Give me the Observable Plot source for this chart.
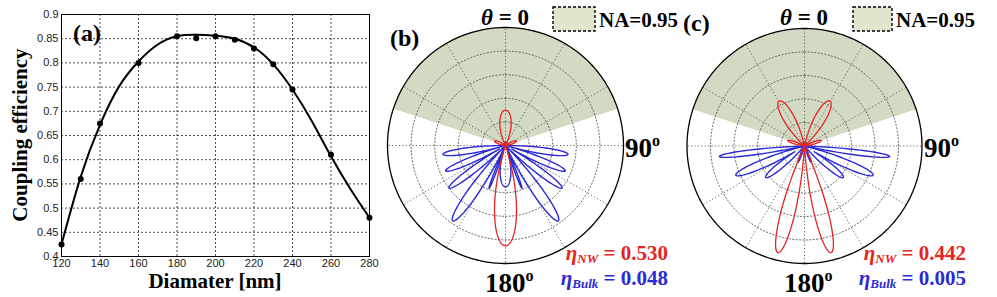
<!DOCTYPE html>
<html><head><meta charset="utf-8">
<script src="https://cdn.jsdelivr.net/npm/d3@7"></script>
<script src="https://cdn.jsdelivr.net/npm/@observablehq/plot@0.6"></script>
<style>
html,body{margin:0;padding:0;background:#fff;}
#wrap{position:relative;width:997px;height:297px;overflow:hidden;}
#wrap > svg, #wrap > figure{position:absolute;top:0;margin:0;}
</style></head>
<body><div id="wrap"></div>
<script>
// ---- Panel (a) data ----
const diameters = [120,130,140,160,180,190,200,210,220,230,240,260,280];
const efficiency = [0.425,0.56,0.675,0.80,0.855,0.851,0.855,0.848,0.83,0.797,0.745,0.61,0.48];
const fitDiam = [120,130,140,150,160,170,180,190,200,210,220,230,240,250,260,270,280];
const fitEff  = [0.425,0.565,0.672,0.752,0.803,0.838,0.855,0.858,0.856,0.850,0.832,0.797,0.745,0.680,0.607,0.540,0.480];
const xTicks = [120,140,160,180,200,220,240,260,280];
const yTicks = [0.4,0.45,0.5,0.55,0.6,0.65,0.7,0.75,0.8,0.85,0.9];
const yTickLabels = ["0.4","0.45","0.5","0.55","0.6","0.65","0.7","0.75","0.8","0.85","0.9"];

// ---- Polar panels: lobes [angle from top (deg), normalized length, half-width (deg)] ----
const nwB   = [[0,0.30,26],[68,0.10,15],[-68,0.10,15],[180,0.85,17.7]];
const bulkB = [[0,0.03,40],[98,0.535,8],[-98,0.535,8],[113,0.55,7.5],[-113,0.55,7.5],[127,0.60,7.5],[-127,0.60,7.5],[145,0.78,9],[-145,0.78,9],[159,0.39,3],[-159,0.39,3],[180,0.35,21]];
const nwC   = [[29.5,0.44,17],[-29.5,0.44,17],[72,0.15,10],[-72,0.15,10],[166,0.935,10.2],[-166,0.935,10.2]];
const bulkC = [[0,0.03,40],[97,0.73,5],[-97,0.73,5],[113,0.635,8.6],[-113,0.635,8.6],[129,0.425,9.7],[-129,0.425,9.7],[158,0.15,6],[-158,0.15,6]];
const NA = 0.95;
const ringRadii = [0.2,0.4,0.6,0.8];
const spokeAngles = [0,30,60,90,120,150,180,210,240,270,300,330];

const RED = "#e52521", BLUE = "#2b2bd6", SHADE = "#d3dac4";
const wrap = document.getElementById("wrap");

// ---- Panel (a) ----
const pa = Plot.plot({
  width: 385, height: 297,
  marginLeft: 61, marginRight: 16, marginTop: 14, marginBottom: 41,
  x: {domain: [120, 280]},
  y: {domain: [0.4, 0.9]},
  style: {fontFamily: "Liberation Sans, Arial, sans-serif", fontSize: "11px", color: "#222", background: "transparent", overflow: "visible"},
  marks: [
    Plot.gridX(xTicks, {stroke: "#000", strokeOpacity: 0.7, strokeDasharray: "2,2"}),
    Plot.gridY(yTicks, {stroke: "#000", strokeOpacity: 0.7, strokeDasharray: "2,2"}),
    Plot.frame({stroke: "#000", strokeWidth: 1}),
    Plot.axisX(xTicks, {tickSize: 0, tickPadding: 3, label: null}),
    Plot.axisY(yTicks, {tickSize: 0, tickPadding: 3, label: null, tickFormat: (d, i) => yTickLabels[i]}),
    Plot.line(fitDiam.map((d, i) => ({d, e: fitEff[i]})), {x: "d", y: "e", curve: "natural", stroke: "#000", strokeWidth: 2}),
    Plot.dot(diameters.map((d, i) => ({d, e: efficiency[i]})), {x: "d", y: "e", r: 3, fill: "#000", stroke: "none"})
  ]
});
pa.style.left = "0px";
wrap.appendChild(pa);

// ---- Polar helper ----
function pattern(lobes) {
  const pts = [];
  for (let k = 0; k <= 1440; k++) {
    const phi = k * 0.25;
    let r = 0;
    for (const [a, amp, w] of lobes) {
      let d = ((phi - a) % 360 + 540) % 360 - 180;
      if (Math.abs(d) < w) r = Math.max(r, amp * Math.cos(Math.PI / 2 * d / w));
    }
    const t = phi * Math.PI / 180;
    pts.push({x: r * Math.sin(t), y: r * Math.cos(t)});
  }
  return pts;
}
function circle(r) {
  const pts = [];
  for (let k = 0; k <= 360; k++) { const t = k * Math.PI / 180; pts.push({x: r * Math.sin(t), y: r * Math.cos(t)}); }
  return pts;
}
function polarPanel(left, width, cx, cy, R, nw, bulk) {
  const half = Math.asin(NA);
  const wedge = [{x: 0, y: 0}];
  for (let k = 0; k <= 200; k++) { const t = -half + 2 * half * k / 200; wedge.push({x: Math.sin(t), y: Math.cos(t)}); }
  wedge.push({x: 0, y: 0});
  const rings = ringRadii.flatMap(r => circle(r).map(p => ({...p, ring: r})));
  const spokes = spokeAngles.map(a => ({x2: Math.sin(a * Math.PI / 180), y2: Math.cos(a * Math.PI / 180)}));
  const p = Plot.plot({
    width, height: 297,
    x: {domain: [-1, 1], range: [cx - left - R, cx - left + R], axis: null},
    y: {domain: [-1, 1], range: [cy + R, cy - R], axis: null},
    style: {background: "transparent", overflow: "visible"},
    marks: [
      Plot.line(wedge, {x: "x", y: "y", fill: SHADE, stroke: "none"}),
      Plot.line(rings, {x: "x", y: "y", z: "ring", stroke: "#555", strokeWidth: 0.9, strokeDasharray: "1.2,2.2"}),
      Plot.link(spokes, {x1: 0, y1: 0, x2: "x2", y2: "y2", stroke: "#555", strokeWidth: 0.9, strokeDasharray: "1.2,2.2"}),
      Plot.line(circle(1), {x: "x", y: "y", stroke: "#000", strokeWidth: 1.3}),
      Plot.line(pattern(bulk), {x: "x", y: "y", stroke: BLUE, strokeWidth: 1.4}),
      Plot.line(pattern(nw), {x: "x", y: "y", stroke: RED, strokeWidth: 1.3})
    ]
  });
  p.style.left = left + "px";
  wrap.appendChild(p);
}
polarPanel(385, 295, 505, 145, 118, nwB, bulkB);
polarPanel(680, 317, 804, 145.5, 117.5, nwC, bulkC);

// ---- Text overlay ----
const ov = d3.select(wrap).append("svg").attr("width", 997).attr("height", 297)
  .style("position", "absolute").style("left", 0).style("top", 0)
  .attr("font-family", "Liberation Serif, Times New Roman, serif").attr("font-weight", "bold");

function txt(x, y, size, anchor, fill) {
  return ov.append("text").attr("x", x).attr("y", y).attr("font-size", size).attr("text-anchor", anchor).attr("fill", fill || "#000");
}
txt(73, 41, 24, "start").text("(a)");
txt(0, 0, 21, "middle").attr("transform", "translate(27,135) rotate(-90)").text("Coupling efficiency");
txt(215, 288, 21, "middle").text("Diamater [nm]");

function polarText(cx, labelX, labelY, label, boxX, boxW, etaRight, nwVal, bulkVal) {
  const t = txt(cx, 25, 23, "middle"); t.append("tspan").attr("font-style", "italic").text("θ"); t.append("tspan").text(" = 0");
  txt(labelX, labelY, 24, "start").text(label);
  ov.append("rect").attr("x", boxX).attr("y", 7).attr("width", boxW).attr("height", 24)
    .attr("fill", "#dfe6cd").attr("stroke", "#000").attr("stroke-width", 1.4).attr("stroke-dasharray", "3,2");
  txt(boxX + boxW + 4, 27, 21, "start").text("NA=0.95");
  const n = txt(cx + 120, 157, 27, "start"); n.append("tspan").text("90"); n.append("tspan").attr("font-size", 16).attr("dy", -11).text("o");
  const b = txt(cx - 20, 292, 27, "start"); b.append("tspan").text("180"); b.append("tspan").attr("font-size", 16).attr("dy", -11).text("o");
  const e1 = txt(etaRight, 260, 21, "end", RED);
  e1.append("tspan").attr("font-style", "italic").text("η");
  e1.append("tspan").attr("font-style", "italic").attr("font-size", 13).attr("dy", 3).text("NW");
  e1.append("tspan").attr("dy", -3).text(" = " + nwVal);
  const e2 = txt(etaRight, 285, 21, "end", BLUE);
  e2.append("tspan").attr("font-style", "italic").text("η");
  e2.append("tspan").attr("font-style", "italic").attr("font-size", 13).attr("dy", 3).text("Bulk");
  e2.append("tspan").attr("dy", -3).text(" = " + bulkVal);
}
polarText(505, 390, 46, "(b)", 553, 42, 668, "0.530", "0.048");
polarText(804, 683, 31, "(c)", 853, 39, 966, "0.442", "0.005");
</script></body></html>
